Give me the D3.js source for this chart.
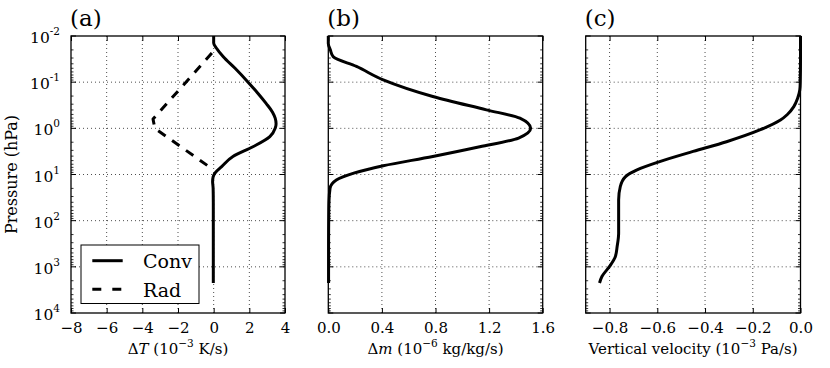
<!DOCTYPE html>
<html><head><meta charset="utf-8">
<script src="https://cdn.jsdelivr.net/npm/d3@7"></script>
<style>body{margin:0;background:#fff}svg{display:block}text{font-family:"DejaVu Serif",serif;fill:#000}</style>
</head><body><svg id="c" width="830" height="368"></svg>
<script>
// Panel (a): temperature tendency (10^-3 K/s) vs log10 pressure (hPa)
const convLogP = [-2.0, -1.85, -1.73, -1.55, -1.3, -1.0, -0.75, -0.54, -0.35, -0.22, -0.1, 0.0, 0.18, 0.4, 0.61, 0.83, 0.97, 1.05, 1.15, 1.3, 1.6, 2.0, 2.5, 3.0, 3.35];
const convT   = [0.0, 0.0, 0.17, 0.54, 1.2, 1.93, 2.5, 2.94, 3.3, 3.45, 3.5, 3.45, 3.15, 2.2, 1.08, 0.45, 0.07, -0.03, -0.06, -0.03, -0.02, -0.02, -0.02, -0.02, -0.02];
const radLogP = [-1.63, -0.2, 0.0, 0.86];
const radT    = [-0.1, -3.4, -3.3, -0.15];
// Panel (b): moisture tendency (10^-6 kg/kg/s)
const mLogP = [-2.0, -1.84, -1.7, -1.55, -1.34, -1.05, -0.69, -0.4, -0.22, 0.0, 0.21, 0.4, 0.61, 0.81, 0.97, 1.12, 1.3, 1.6, 2.0, 2.5, 3.0, 3.35];
const mVal  = [0.0, 0.0, 0.015, 0.037, 0.21, 0.41, 0.78, 1.18, 1.43, 1.51, 1.42, 1.13, 0.78, 0.41, 0.19, 0.06, 0.013, 0.005, 0.003, 0.002, 0.002, 0.002];
// Panel (c): vertical velocity (10^-3 Pa/s)
const wLogP = [-2.0, -1.5, -1.0, -0.83, -0.65, -0.47, -0.3, -0.18, 0.03, 0.29, 0.5, 0.72, 0.9, 1.05, 1.26, 1.55, 2.0, 2.27, 2.55, 2.78, 2.99, 3.21, 3.35];
const wVal  = [0.0, 0.0, -0.001, -0.003, -0.012, -0.028, -0.055, -0.084, -0.168, -0.31, -0.45, -0.59, -0.685, -0.734, -0.755, -0.762, -0.762, -0.762, -0.768, -0.776, -0.80, -0.832, -0.842];
// Ticks
const yTickExp = [-2, -1, 0, 1, 2, 3, 4];
const xTicksA = [-8, -6, -4, -2, 0, 2, 4];
const xTicksB = [0.0, 0.4, 0.8, 1.2, 1.6];
const xTicksC = [-0.8, -0.6, -0.4, -0.2, 0.0];
const legendLabels = ["Conv", "Rad"];
const panelTitles = ["(a)", "(b)", "(c)"];

const svg = d3.select("#c");
const yTop = 36, yBot = 313;
const y = d3.scaleLog().domain([1e-2, 1e4]).range([yTop, yBot]);
const panels = [
  {x0: 71, x1: 285, dom: [-8, 4], ticks: xTicksA, fmt: d => d3.format("d")(d).replace("-", "\u2212"), title: panelTitles[0]},
  {x0: 328.3, x1: 542.7, dom: [0, 1.6], ticks: xTicksB, fmt: d => d3.format(".1f")(d), title: panelTitles[1]},
  {x0: 585.7, x1: 800.5, dom: [-0.9, 0], ticks: xTicksC, fmt: d => d3.format(".1f")(d).replace("-", "\u2212"), title: panelTitles[2]}
];
panels.forEach(p => p.x = d3.scaleLinear().domain(p.dom).range([p.x0, p.x1]));

const minor = [];
for (let e = -2; e < 4; e++) for (let m = 2; m <= 9; m++) minor.push(m * Math.pow(10, e));
const DASH = "9,8";

panels.forEach((p, i) => {
  const g = svg.append("g");
  g.append("g").selectAll("line").data(p.ticks.filter(t => t > p.dom[0] && t < p.dom[1])).join("line")
    .attr("x1", d => p.x(d)).attr("x2", d => p.x(d)).attr("y1", yTop).attr("y2", yBot)
    .attr("stroke", "#000").attr("stroke-width", 0.7).attr("stroke-dasharray", "1,3");
  g.append("g").selectAll("line").data(yTickExp.slice(1, -1)).join("line")
    .attr("x1", p.x0).attr("x2", p.x1).attr("y1", d => y(Math.pow(10, d))).attr("y2", d => y(Math.pow(10, d)))
    .attr("stroke", "#000").attr("stroke-width", 0.7).attr("stroke-dasharray", "1,3");
  const xb = d3.axisBottom(p.x).tickValues(p.ticks).tickSize(-5).tickPadding(9).tickFormat(p.fmt);
  const ga = g.append("g").attr("transform", `translate(0,${yBot})`).call(xb);
  ga.select(".domain").remove();
  ga.selectAll("text").attr("font-size", 15).attr("font-family", "DejaVu Serif");
  ga.selectAll("line").attr("stroke-width", 1);
  const gt = g.append("g").attr("transform", `translate(0,${yTop})`).call(d3.axisTop(p.x).tickValues(p.ticks).tickSize(-5).tickFormat(""));
  gt.select(".domain").remove();
  [[p.x0, 1], [p.x1, -1]].forEach(([xx, dir]) => {
    g.append("g").selectAll("line").data(minor).join("line").attr("x1", xx).attr("x2", xx + dir * 2.5)
      .attr("y1", d => y(d)).attr("y2", d => y(d)).attr("stroke", "#000").attr("stroke-width", 0.8);
    g.append("g").selectAll("line").data(yTickExp).join("line").attr("x1", xx).attr("x2", xx + dir * 5)
      .attr("y1", d => y(Math.pow(10, d))).attr("y2", d => y(Math.pow(10, d))).attr("stroke", "#000").attr("stroke-width", 1);
  });
  g.append("text").attr("x", p.x0 - 1).attr("y", 26).attr("font-size", 23).text(p.title);
  p.g = g;
});

const pa = panels[0];
yTickExp.forEach(e => {
  const t = svg.append("text").attr("x", pa.x0 - 11).attr("y", y(Math.pow(10, e)) + 7).attr("text-anchor", "end").attr("font-size", 15.5);
  t.append("tspan").text("10");
  t.append("tspan").attr("dy", -8).attr("font-size", 10.5).text(String(e));
});
svg.append("text").attr("transform", `translate(17,${(yTop + yBot) / 2}) rotate(-90)`).attr("text-anchor", "middle").attr("font-size", 16).text("Pressure (hPa)");

function xlabel(p, parts) {
  const t = svg.append("text").attr("x", (p.x0 + p.x1) / 2).attr("y", 354).attr("text-anchor", "middle").attr("font-size", 15);
  parts.forEach(q => {
    const s = t.append("tspan").text(q.t);
    if (q.it) s.attr("font-style", "italic");
    if (q.sup) s.attr("dy", -7).attr("font-size", 10.5);
    if (q.down) s.attr("dy", 7);
  });
}
xlabel(panels[0], [{t: "\u0394"}, {t: "T", it: true}, {t: " (10"}, {t: "\u22123", sup: true}, {t: "  K/s)", down: true}]);
xlabel(panels[1], [{t: "\u0394"}, {t: "m", it: true}, {t: " (10"}, {t: "\u22126", sup: true}, {t: "  kg/kg/s)", down: true}]);
xlabel(panels[2], [{t: "Vertical velocity (10"}, {t: "\u22123", sup: true}, {t: "  Pa/s)", down: true}]);

function draw(p, xs, lps, dash) {
  const pts = xs.map((v, i) => [p.x(v), y(Math.pow(10, lps[i]))]);
  p.g.append("path").attr("d", d3.line().curve(dash ? d3.curveLinear : d3.curveMonotoneY)(pts))
    .attr("fill", "none").attr("stroke", "#000").attr("stroke-width", 3)
    .attr("stroke-dasharray", dash ? DASH : null).attr("stroke-linejoin", "round");
}
draw(panels[0], convT, convLogP, false);
draw(panels[0], radT, radLogP, true);
draw(panels[1], mVal, mLogP, false);
draw(panels[2], wVal, wLogP, false);

panels.forEach(p => svg.append("rect").attr("x", p.x0).attr("y", yTop).attr("width", p.x1 - p.x0).attr("height", yBot - yTop)
  .attr("fill", "none").attr("stroke", "#000").attr("stroke-width", 1.3));

const lg = svg.append("g");
lg.append("rect").attr("x", 81).attr("y", 245).attr("width", 118).attr("height", 58.5).attr("fill", "#fff").attr("stroke", "#000").attr("stroke-width", 1);
legendLabels.forEach((l, i) => {
  const yy = 260.7 + i * 28.6;
  lg.append("line").attr("x1", 92.3).attr("x2", 122.7).attr("y1", yy).attr("y2", yy).attr("stroke", "#000").attr("stroke-width", 3)
    .attr("stroke-dasharray", i ? "9,11" : null);
  lg.append("text").attr("x", 143).attr("y", yy + 7.5).attr("font-size", 19).text(l);
});
</script></body></html>
